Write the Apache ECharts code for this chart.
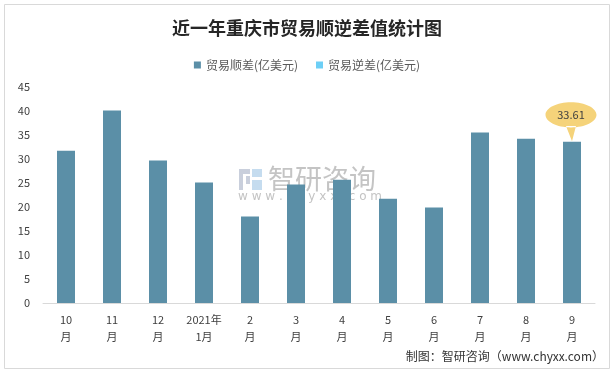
<!DOCTYPE html>
<html><head><meta charset="utf-8">
<script src="https://cdn.jsdelivr.net/npm/echarts@6/dist/echarts.min.js"></script>
<style>html,body{margin:0;padding:0;background:#fff}#c{width:614px;height:373px}</style>
</head><body><div id="c"></div>
<script>
var categories = ['10\n月','11\n月','12\n月','2021年\n1月','2\n月','3\n月','4\n月','5\n月','6\n月','7\n月','8\n月','9\n月'];
var surplus = [31.7, 40.1, 29.7, 25.1, 18.0, 24.7, 25.7, 21.7, 19.9, 35.5, 34.2, 33.61];
var deficit = [];
var yTicks = [0,5,10,15,20,25,30,35,40,45];
var calloutIndex = 11;

var chart = echarts.init(document.getElementById('c'));
var bubblePath = 'path://M-25.5 0C-25.5 -6.9 -14.1 -12.5 0 -12.5C14.1 -12.5 25.5 -6.9 25.5 0C25.5 6.9 14.1 12.5 0 12.5C-14.1 12.5 -25.5 6.9 -25.5 0ZM-5 11L1 26L5 11Z';
chart.setOption({
  animation: false,
  textStyle: {fontFamily: 'Noto Sans CJK SC'},
  title: {
    text: '近一年重庆市贸易顺逆差值统计图', left: 'center', top: 14,
    textStyle: {fontSize: 18, fontWeight: 'bold', color: '#262626', fontFamily: 'Noto Sans CJK SC'}
  },
  legend: {
    top: 54, left: 'center', itemWidth: 7, itemHeight: 7, itemGap: 18,
    icon: 'rect',
    textStyle: {fontSize: 12, color: '#595959'},
    data: ['贸易顺差(亿美元)', '贸易逆差(亿美元)']
  },
  grid: {left: 43, right: 19, top: 87, bottom: 70},
  graphic: [
    {type: 'rect', shape: {x: 4.5, y: 4.5, width: 605, height: 364}, style: {fill: 'none', stroke: '#d9d9d9', lineWidth: 1}, z: -10},
    {type: 'rect', shape: {x: 239, y: 169, width: 11, height: 5}, style: {fill: '#c9cfdc'}, z: -5},
    {type: 'rect', shape: {x: 239, y: 169, width: 4, height: 21}, style: {fill: '#c9cfdc'}, z: -5},
    {type: 'rect', shape: {x: 246, y: 176, width: 4, height: 8}, style: {fill: '#c9cfdc'}, z: -5},
    {type: 'rect', shape: {x: 252, y: 169, width: 10, height: 8}, style: {fill: '#c5dcef'}, z: -5},
    {type: 'rect', shape: {x: 252, y: 180, width: 10, height: 10}, style: {fill: '#c5dcef'}, z: -5},
    {type: 'text', left: 268, top: 165, z: -5, style: {text: '智研咨询', fill: '#c4c4c4', font: '27px "Noto Sans CJK SC"'}},
    {type: 'text', left: 238, top: 191, z: -5, style: {text: 'w w w . c h y x x . c o m', fill: '#c4c4c4', font: '12px "DejaVu Sans"'}},
    {type: 'text', right: 10, top: 350, style: {text: '制图：智研咨询（www.chyxx.com）', fill: '#333333', font: '12px "Noto Sans CJK SC"'}}
  ],
  xAxis: {
    type: 'category', data: categories,
    axisLine: {lineStyle: {color: '#d9d9d9'}},
    axisTick: {show: false},
    axisLabel: {fontSize: 11, color: '#404040', lineHeight: 17, margin: 8, interval: 0}
  },
  yAxis: {
    type: 'value', min: 0, max: 45, interval: 5,
    axisLine: {show: false}, axisTick: {show: false}, splitLine: {show: false},
    axisLabel: {fontSize: 11, color: '#404040', margin: 13}
  },
  series: [
    {
      name: '贸易顺差(亿美元)', type: 'bar', data: surplus, barWidth: 18, barGap: '-100%',
      itemStyle: {color: '#5b8fa7'},
      markPoint: {
        data: [{coord: [calloutIndex, surplus[calloutIndex]], value: surplus[calloutIndex]}],
        symbol: bubblePath, symbolSize: [51, 39], symbolOffset: [-1, -20],
        itemStyle: {color: '#f5d37a'},
        label: {show: true, color: '#404040', fontSize: 11, offset: [0, -7], formatter: function(p){return p.value.toFixed(2);}}
      }
    },
    {
      name: '贸易逆差(亿美元)', type: 'bar', data: deficit, barWidth: 18, barGap: '-100%',
      itemStyle: {color: '#6dcff6'}
    }
  ]
});
</script></body></html>
